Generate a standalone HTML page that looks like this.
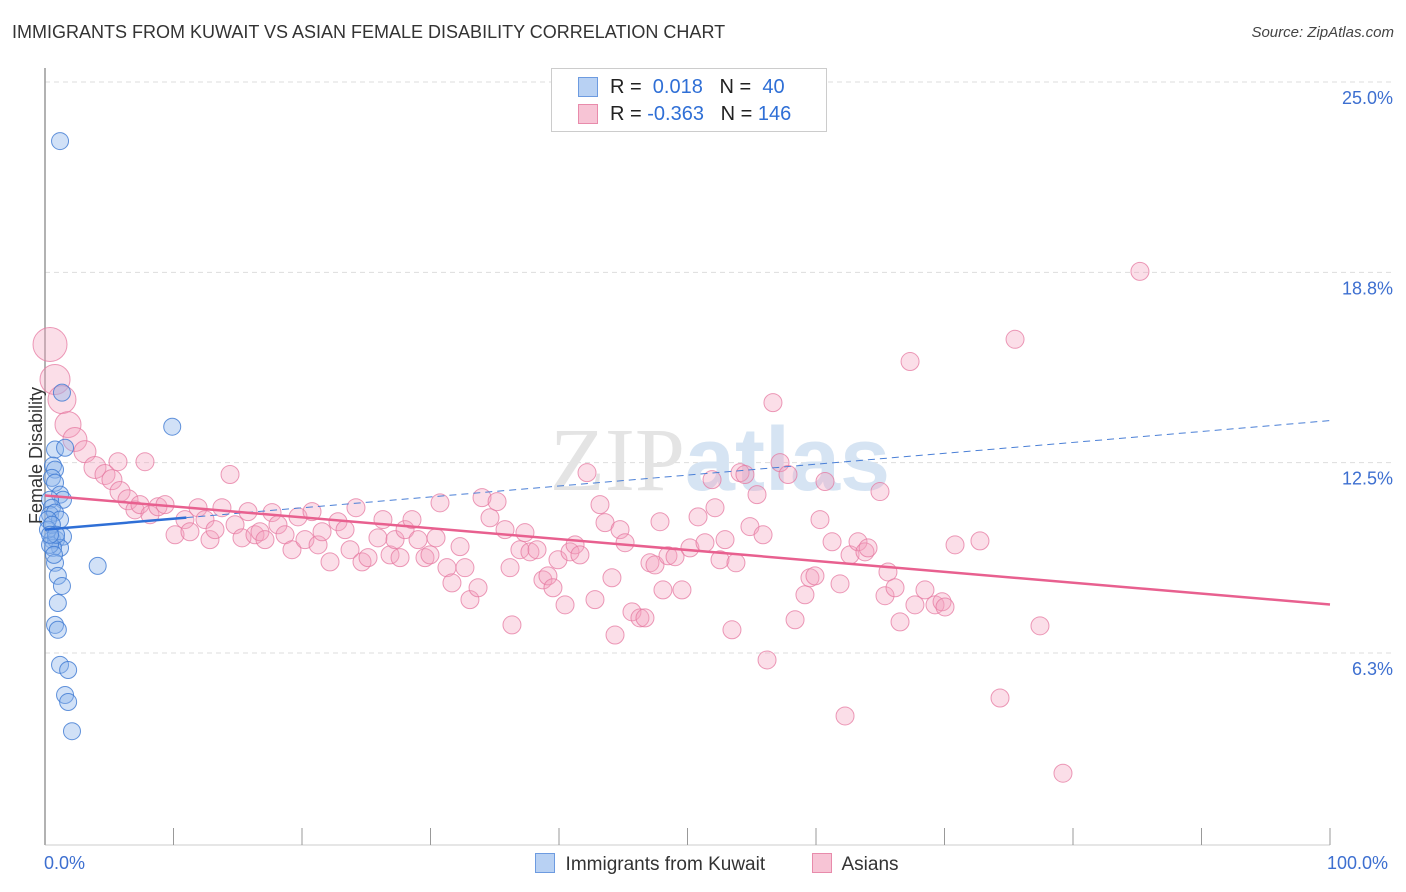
<!DOCTYPE html>
<html><head><meta charset="utf-8"><style>
body{margin:0;background:#fff;font-family:"Liberation Sans",sans-serif}
#wrap{position:relative;width:1406px;height:892px;overflow:hidden}
.t{position:absolute;white-space:nowrap}
</style></head><body>
<div id="wrap">
<div class="t" style="left:12px;top:22px;font-size:18px;color:#333">IMMIGRANTS FROM KUWAIT VS ASIAN FEMALE DISABILITY CORRELATION CHART</div>
<div class="t" style="right:12px;top:24px;font-size:15px;color:#444;font-style:italic">Source: ZipAtlas.com</div>
<svg id="svg" width="1406" height="892" style="position:absolute;left:0;top:0"></svg>
</div>
<script>
const blueX=[1.17,1.32,9.9,4.1,0.78,1.56,0.62,0.78,0.54,0.78,1.17,1.4,0.39,0.54,0.39,0.78,1.17,0.23,0.54,0.86,1.4,1.17,0.62,0.78,1.0,1.32,1.0,0.78,1.0,1.17,1.8,1.56,1.8,2.1,0.39,0.23,0.54,0.86,0.39,0.7];
const blueY=[23.06,14.8,13.68,9.11,12.93,12.99,12.4,12.27,12.0,11.84,11.45,11.28,11.28,11.02,10.79,10.86,10.63,10.63,9.97,9.97,10.07,9.7,9.7,9.21,8.78,8.45,7.89,7.17,7.01,5.86,5.69,4.87,4.64,3.68,9.8,10.3,10.46,10.13,10.13,9.47];
const pinkX=[0.39,0.78,1.32,1.79,2.33,3.11,3.89,4.67,5.21,5.84,6.46,7.0,7.39,8.17,8.79,9.34,10.12,10.89,11.28,11.91,12.45,12.84,13.23,13.77,14.4,14.79,15.33,15.8,16.34,16.73,17.12,17.67,18.13,18.68,19.22,19.69,20.23,20.78,21.25,21.56,22.18,22.8,23.35,23.74,24.2,24.67,25.14,25.91,26.3,26.85,27.24,27.63,28.02,28.56,29.03,29.57,29.96,30.43,30.74,31.28,31.67,32.3,32.68,33.07,33.7,34.01,34.63,35.18,35.8,36.19,36.34,36.96,37.35,37.74,38.29,38.75,39.14,39.53,39.92,40.47,40.86,41.25,41.63,42.18,42.8,43.19,43.58,44.12,44.36,44.75,45.14,45.68,46.3,46.69,47.08,47.47,47.86,48.09,48.48,49.03,49.57,50.19,50.82,51.36,51.91,52.14,52.53,52.92,53.46,53.77,54.09,54.47,54.86,55.41,55.88,56.19,56.65,57.2,57.82,58.37,59.14,59.53,59.92,60.31,60.7,61.25,61.87,62.26,62.65,63.27,63.81,64.05,64.98,65.37,65.6,66.15,66.54,67.32,67.7,68.48,69.26,69.81,70.04,70.82,72.76,74.32,75.49,77.43,79.22,85.21,5.68,7.78];
const pinkY=[16.38,15.23,14.57,13.75,13.26,12.86,12.34,12.11,11.94,11.55,11.28,10.95,11.12,10.79,11.05,11.12,10.13,10.63,10.23,11.02,10.63,9.97,10.3,11.02,12.11,10.46,10.03,10.89,10.13,10.23,9.97,10.86,10.46,10.13,9.64,10.72,9.97,10.89,9.8,10.23,9.24,10.56,10.3,9.64,11.02,9.24,9.38,10.03,10.63,9.47,9.97,9.38,10.3,10.63,9.97,9.38,9.47,10.03,11.18,9.05,8.55,9.74,9.05,8.0,8.39,11.35,10.69,11.22,10.3,9.05,7.17,9.64,10.2,9.57,9.64,8.65,8.78,8.39,9.31,7.83,9.57,9.8,9.47,12.17,8.0,11.12,10.53,8.72,6.84,10.3,9.87,7.6,7.4,7.4,9.21,9.14,10.56,8.32,9.44,9.41,8.32,9.7,10.72,9.87,11.94,11.02,9.31,9.97,7.01,9.21,12.17,12.11,10.4,11.45,10.13,6.02,14.47,12.5,12.11,7.34,8.16,8.72,8.78,10.63,11.88,9.9,8.52,4.18,9.47,9.9,9.57,9.7,11.55,8.13,8.91,8.39,7.27,15.82,7.83,8.32,7.83,7.93,7.76,9.8,9.93,4.77,16.55,7.14,2.3,18.78,12.53,12.53];
const pinkR=[17,15,14,13,12,11,11,10,10,10,10];
const blueLine=[10.3,13.88]; // value at x=0 and x=100
const pinkLine=[11.42,7.84];
const yTicks=[25.0,18.8,12.5,6.3];
const yTickVals=[25,18.75,12.5,6.25];
const xTickLabels=["0.0%","100.0%"];

const NS="http://www.w3.org/2000/svg";
const svg=document.getElementById('svg');
const X=v=>45+v*12.85;
const Y=v=>82+(25-v)*30.45;
function mk(tag,attrs,parent){const e=document.createElementNS(NS,tag);for(const k in attrs)e.setAttribute(k,attrs[k]);(parent||svg).appendChild(e);return e;}
// grid
yTickVals.forEach((v,i)=>{
  const g=mk('line',{x1:45,x2:1393,y1:Y(v),y2:Y(v),stroke:'#ddd','stroke-dasharray':'5,4'});
  
  
  const t=mk('text',{x:1393,y:Y(v)+22,'text-anchor':'end','font-size':18,fill:'#3d6fd0','font-family':'Liberation Sans'});
  t.textContent=yTicks[i].toFixed(1)+'%';
  
  
});
mk('line',{x1:45,x2:45,y1:68,y2:845,stroke:'#999','stroke-width':1.5});
mk('line',{x1:45,x2:1330,y1:845,y2:845,stroke:'#ccc'});
for(let i=0;i<=10;i++){const tk=mk('line',{x1:X(i*10),x2:X(i*10),y1:828,y2:845,stroke:'#999'});
  
  }
// watermark
const wm=mk('text',{x:720,y:490,'text-anchor':'middle','font-size':90,fill:'#e4e4e4','font-family':'Liberation Serif'});
wm.innerHTML='ZIP<tspan fill="#d6e4f3" font-family="Liberation Sans" font-weight="bold">atlas</tspan>';


// points
pinkX.forEach((x,i)=>{const c=mk('circle',{cx:X(x),cy:Y(pinkY[i]),r:pinkR[i]||9,fill:'rgba(244,160,190,0.35)',stroke:'rgba(230,120,160,0.75)','stroke-width':1});
  
  });
blueX.forEach((x,i)=>{const c=mk('circle',{cx:X(x),cy:Y(blueY[i]),r:8.5,fill:'rgba(140,180,235,0.4)',stroke:'rgba(60,120,210,0.8)','stroke-width':1});
  
  });
// trend lines
const bAt=x=>blueLine[0]+(blueLine[1]-blueLine[0])*x/100;
const pAt=x=>pinkLine[0]+(pinkLine[1]-pinkLine[0])*x/100;
let l=mk('line',{x1:X(0),y1:Y(bAt(0)),x2:X(11),y2:Y(bAt(11)),stroke:'#2f6fd6','stroke-width':2.5});


l=mk('line',{x1:X(11),y1:Y(bAt(11)),x2:X(100),y2:Y(bAt(100)),stroke:'#4a7fd6','stroke-width':1,'stroke-dasharray':'7,5'});


l=mk('line',{x1:X(0),y1:Y(pAt(0)),x2:X(100),y2:Y(pAt(100)),stroke:'#e8608f','stroke-width':2.5});


</script>
<div class="t" style="left:-32px;top:445px;font-size:18px;color:#333;transform:rotate(-90deg)">Female Disability</div>
<div class="t" style="left:44px;top:853px;font-size:18px;color:#3d6fd0">0.0%</div>
<div class="t" style="left:1327px;top:853px;font-size:18px;color:#3d6fd0">100.0%</div>
<div style="position:absolute;left:551px;top:68px;width:274px;height:62px;border:1px solid #ccc;background:#fff;font-size:20px">
 <div style="position:absolute;left:26px;top:8px;width:18px;height:18px;background:#b8d1f3;border:1px solid #6d9be0"></div>
 <div class="t" style="left:58px;top:7px;color:#222">R = <span style="color:#2f6fd6">&nbsp;0.018</span>&nbsp;&nbsp;&nbsp;N = <span style="color:#2f6fd6">&nbsp;40</span></div>
 <div style="position:absolute;left:26px;top:35px;width:18px;height:18px;background:#f7c4d5;border:1px solid #e88bab"></div>
 <div class="t" style="left:58px;top:34px;color:#222">R = <span style="color:#2f6fd6">-0.363</span>&nbsp;&nbsp;&nbsp;N = <span style="color:#2f6fd6">146</span></div>
</div>
<div style="position:absolute;left:535px;top:853px;font-size:19px;color:#333">
 <span style="display:inline-block;width:18px;height:18px;background:#b8d1f3;border:1px solid #6d9be0;vertical-align:-3px"></span>&nbsp; Immigrants from Kuwait</div>
<div style="position:absolute;left:812px;top:853px;font-size:19px;color:#333">
 <span style="display:inline-block;width:18px;height:18px;background:#f7c4d5;border:1px solid #e88bab;vertical-align:-3px"></span>&nbsp; Asians</div>
</body></html>
